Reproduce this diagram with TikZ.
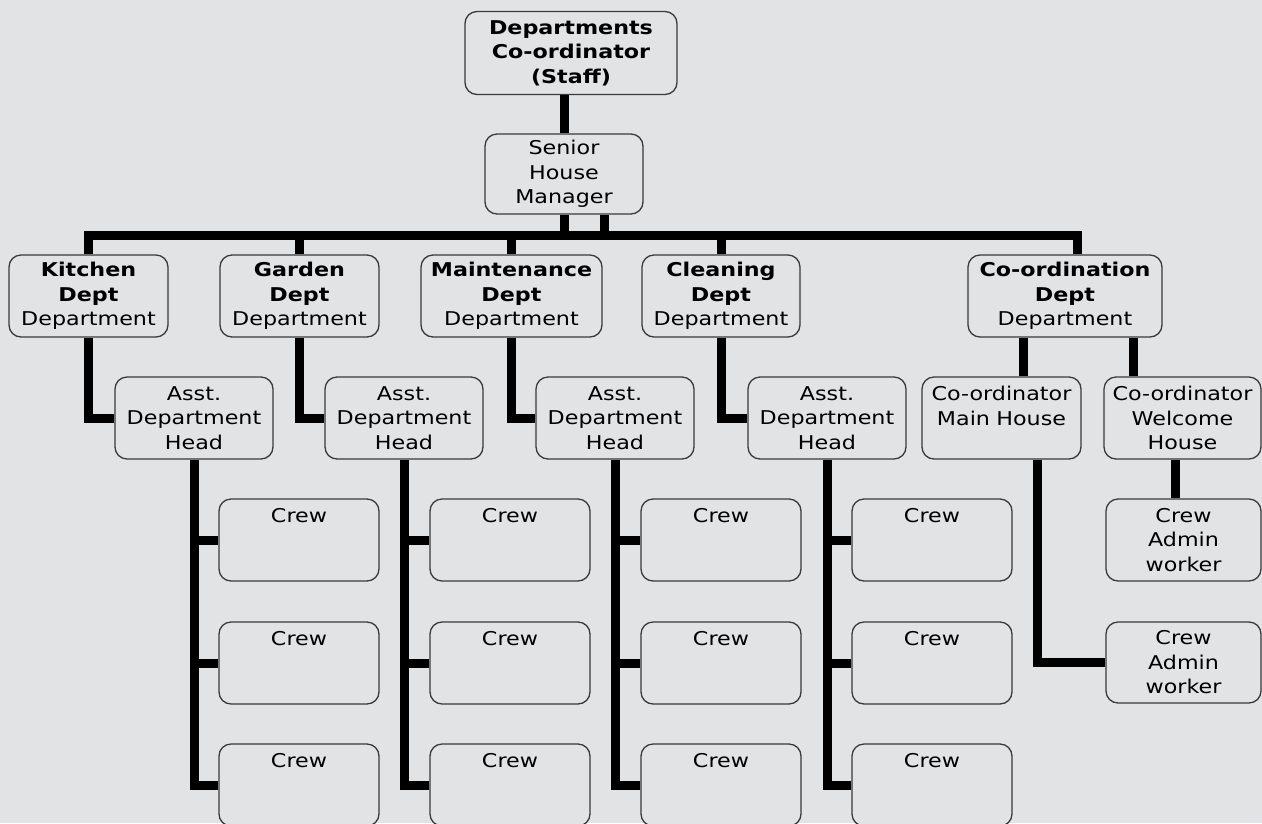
\documentclass[tikz,border=0pt]{standalone}
\usepackage{fontspec}
\setmainfont{DejaVu Sans}[FakeStretch=1.17]
\definecolor{bg}{HTML}{E2E3E5}
\definecolor{bord}{HTML}{3A3A3A}
\tikzset{
  box/.style={draw=bord, line width=1.3pt, rounded corners=12pt, fill=bg,
    inner sep=0pt, align=center, font=\fontsize{19}{24.5}\selectfont},
  link/.style={line width=9pt, black},
}
\begin{document}
\begin{tikzpicture}[x=1pt,y=-1pt]
\fill[bg] (0,0) rectangle (1262,823);
\useasboundingbox (0,0) rectangle (1262,823);
\clip (0,0) rectangle (1262,823);
% top
\node[box, minimum width=212pt, minimum height=83pt, text width=206pt] (top) at (571,53) {\bfseries Departments\\\bfseries Co-ordinator\\\bfseries (Staff)};
\node[box, minimum width=158pt, minimum height=80pt, text width=152pt] (shm) at (564,174) {Senior\\House\\Manager};
% departments
\node[box, minimum width=159pt, minimum height=82pt, text width=155pt] (kit) at (88.5,296) {\textbf{Kitchen}\\\textbf{Dept}\\Department};
\node[box, minimum width=159pt, minimum height=82pt, text width=155pt] (gar) at (299.5,296) {\textbf{Garden}\\\textbf{Dept}\\Department};
\node[box, minimum width=181pt, minimum height=82pt, text width=177pt] (mai) at (511.5,296) {\textbf{Maintenance}\\\textbf{Dept}\\Department};
\node[box, minimum width=158pt, minimum height=82pt, text width=154pt] (cle) at (721,296) {\textbf{Cleaning}\\\textbf{Dept}\\Department};
\node[box, minimum width=194pt, minimum height=82pt, text width=190pt] (cod) at (1065,296) {\textbf{Co-ordination}\\\textbf{Dept}\\Department};
% assistants
\foreach \n/\x in {a1/194,a2/404,a3/615,a4/827}{
  \node[box, minimum width=158pt, minimum height=82pt, text width=154pt] (\n) at (\x,418) {Asst.\\Department\\Head};
}
\node[box, minimum width=159pt, minimum height=82pt, text width=157pt] (mh) at (1001.5,418) {Co-ordinator\\Main House\\~};
\node[box, minimum width=157pt, minimum height=82pt, text width=155pt] (wh) at (1182.5,418) {Co-ordinator\\Welcome\\House};
% crews
\foreach \c/\x in {1/299,2/510,3/721,4/932}{
  \foreach \r/\y in {1/540,2/663,3/785}{
    \node[box, minimum width=160pt, minimum height=82pt, text width=156pt] (c\c\r) at (\x,\y) {Crew\\~\\~};
  }
}
\node[box, minimum width=155pt, minimum height=82pt, text width=151pt] (ca1) at (1183.5,540) {Crew\\Admin\\worker};
\node[box, minimum width=155pt, minimum height=81pt, text width=151pt] (ca2) at (1183.5,662.5) {Crew\\Admin\\worker};
% connectors
\draw[link] (shm.north) -- (shm.north |- top.south);
\coordinate (barL) at (kit.north |- 0,235);
\coordinate (cN) at ([xshift=12pt]cod.north);
\draw[link] (kit.north) -- (barL) -- (cN |- barL) -- (cN);
\draw[link] (shm.south) -- (shm.south |- barL);
\draw[link] ([xshift=40pt]shm.south) -- ([xshift=40pt]shm.south |- barL);
\foreach \d in {gar,mai,cle}{
  \draw[link] (\d.north) -- (\d.north |- barL);
}
\draw[link] (kit.south) |- (a1.west);
\draw[link] (gar.south) |- (a2.west);
\draw[link] (mai.south) |- (a3.west);
\draw[link] (cle.south) |- (a4.west);
\foreach \c in {1,2,3,4}{
  \draw[link] (a\c.south) |- (c\c3.west);
  \draw[link] (a\c.south |- c\c1.west) -- (c\c1.west);
  \draw[link] (a\c.south |- c\c2.west) -- (c\c2.west);
}
\draw[link] ([xshift=21.5pt]mh.north) -- ([xshift=21.5pt]mh.north |- cod.south);
\draw[link] ([xshift=-49.5pt]wh.north) -- ([xshift=-49.5pt]wh.north |- cod.south);
\draw[link] ([xshift=35.5pt]mh.south) |- (ca2.west);
\draw[link] ([xshift=-7.5pt]wh.south) -- ([xshift=-7.5pt]wh.south |- ca1.north);
\end{tikzpicture}
\end{document}
